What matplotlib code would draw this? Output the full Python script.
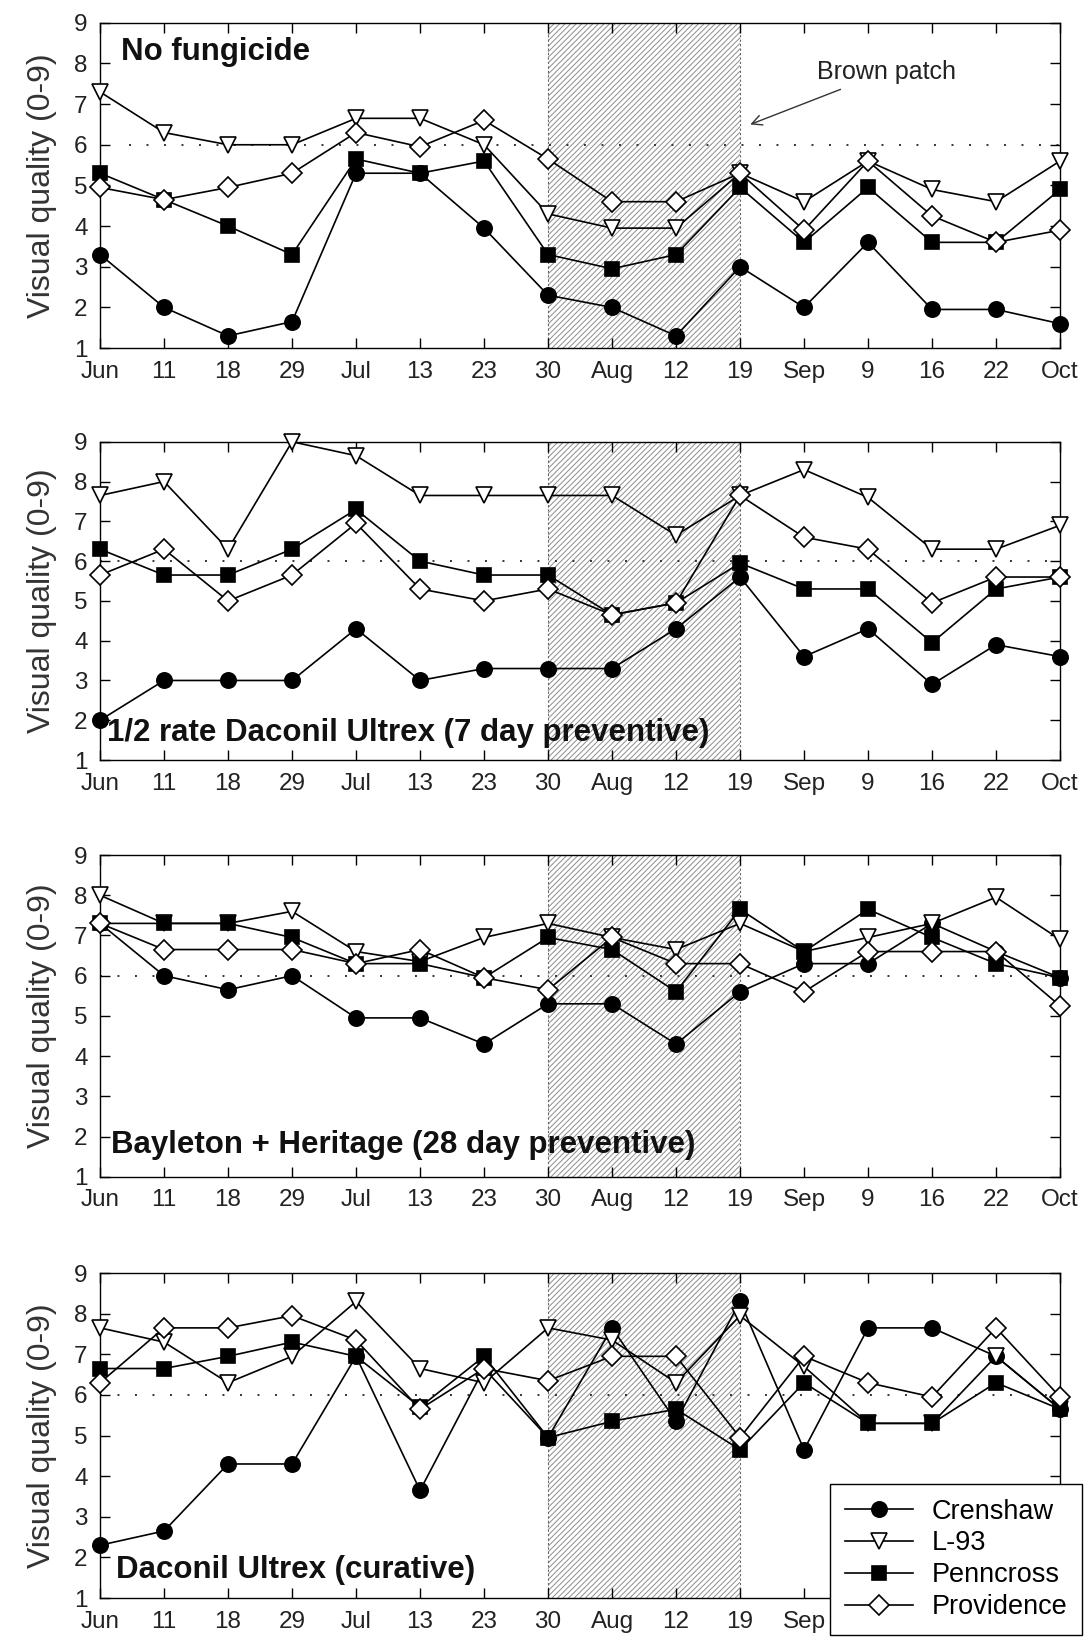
import numpy as np
import matplotlib
matplotlib.use('Agg')
import matplotlib.pyplot as plt

plt.rcParams['font.family'] = ['Liberation Sans Narrow', 'Liberation Sans', 'DejaVu Sans']
plt.rcParams['hatch.linewidth'] = 0.7

dates = ['Jun', '11', '18', '29', 'Jul', '13', '23', '30', 'Aug', '12', '19',
         'Sep', '9', '16', '22', 'Oct']
cultivars = ['Crenshaw', 'L-93', 'Penncross', 'Providence']
titles = ['No fungicide',
          '1/2 rate Daconil Ultrex (7 day preventive)',
          'Bayleton + Heritage (28 day preventive)',
          'Daconil Ultrex (curative)']

# visual quality per panel, per cultivar (Crenshaw, L-93, Penncross, Providence)
no_fungicide = [
    [3.3, 2.0, 1.3, 1.65, 5.3, 5.3, 3.95, 2.3, 2.0, 1.3, 3.0, 2.0, 3.6, 1.95, 1.95, 1.6],
    [7.3, 6.3, 6.0, 6.0, 6.65, 6.65, 6.0, 4.3, 3.95, 3.95, 5.3, 4.6, 5.6, 4.9, 4.6, 5.6],
    [5.3, 4.65, 4.0, 3.3, 5.65, 5.3, 5.6, 3.3, 2.95, 3.3, 4.95, 3.6, 4.95, 3.6, 3.6, 4.9],
    [4.95, 4.65, 4.95, 5.3, 6.3, 5.95, 6.6, 5.65, 4.6, 4.6, 5.3, 3.9, 5.6, 4.25, 3.6, 3.9],
]
half_daconil = [
    [2.0, 3.0, 3.0, 3.0, 4.3, 3.0, 3.3, 3.3, 3.3, 4.3, 5.6, 3.6, 4.3, 2.9, 3.9, 3.6],
    [7.65, 8.0, 6.3, 9.0, 8.65, 7.65, 7.65, 7.65, 7.65, 6.65, 7.65, 8.3, 7.6, 6.3, 6.3, 6.9],
    [6.3, 5.65, 5.65, 6.3, 7.3, 6.0, 5.65, 5.65, 4.65, 4.95, 5.95, 5.3, 5.3, 3.95, 5.3, 5.6],
    [5.65, 6.3, 5.0, 5.65, 6.95, 5.3, 5.0, 5.3, 4.65, 4.95, 7.65, 6.6, 6.3, 4.95, 5.6, 5.6],
]
bayleton = [
    [7.3, 6.0, 5.65, 6.0, 4.95, 4.95, 4.3, 5.3, 5.3, 4.3, 5.6, 6.3, 6.3, 7.3, 6.6, 5.95],
    [8.0, 7.3, 7.3, 7.6, 6.6, 6.35, 6.95, 7.3, 6.95, 6.65, 7.3, 6.6, 6.95, 7.3, 7.95, 6.9],
    [7.3, 7.3, 7.3, 6.95, 6.3, 6.3, 5.95, 6.95, 6.65, 5.6, 7.65, 6.6, 7.65, 6.95, 6.3, 5.95],
    [7.3, 6.65, 6.65, 6.65, 6.3, 6.65, 5.95, 5.65, 6.95, 6.3, 6.3, 5.6, 6.6, 6.6, 6.6, 5.25],
]
daconil_curative = [
    [2.3, 2.65, 4.3, 4.3, 6.95, 3.65, 6.65, 4.95, 7.65, 5.35, 8.3, 4.65, 7.65, 7.65, 6.95, 5.65],
    [7.65, 7.3, 6.3, 6.95, 8.3, 6.65, 6.3, 7.65, 7.35, 6.3, 7.95, 6.7, 5.3, 5.3, 6.95, 5.65],
    [6.65, 6.65, 6.95, 7.3, 6.95, 5.7, 6.95, 4.95, 5.35, 5.65, 4.65, 6.3, 5.3, 5.3, 6.3, 5.65],
    [6.3, 7.65, 7.65, 7.95, 7.35, 5.65, 6.65, 6.35, 6.95, 6.95, 4.95, 6.95, 6.3, 5.95, 7.65, 5.95],
]
panels = [no_fungicide, half_daconil, bayleton, daconil_curative]

styles = [dict(marker='o', mfc='black', ms=11),
          dict(marker='v', mfc='white', ms=12),
          dict(marker='s', mfc='black', ms=9.5),
          dict(marker='D', mfc='white', ms=10)]

fig = plt.figure(figsize=(10.85, 16.38), dpi=100)
bottoms = [0.7875, 0.5360, 0.2816, 0.0244]
heights = [0.1986, 0.1943, 0.1964, 0.1984]
title_x = [0.022, 0.007, 0.011, 0.017]
title_y = [0.91, 0.085, 0.10, 0.085]

x = np.arange(len(dates))
txt = '#222222'

for i, data in enumerate(panels):
    ax = fig.add_axes([0.0922, bottoms[i], 0.8848, heights[i]])
    ax.axvspan(7, 10, facecolor='white', edgecolor='0.55', hatch='//////',
               linewidth=0, zorder=0)
    ax.axvline(7, color='0.4', lw=0.8, ls=(0, (2, 2)), zorder=0.5)
    ax.axvline(10, color='0.4', lw=0.8, ls=(0, (2, 2)), zorder=0.5)
    ax.axhline(6, xmin=0.03 if i == 0 else 0.0, color='0.2', lw=1.4,
               ls=(0, (1, 8)), zorder=1)
    for j, series in enumerate(data):
        ax.plot(x, series, color='black', lw=1.2, mec='black', mew=1.2,
                label=cultivars[j], zorder=3 + j, clip_on=False, **styles[j])
    ax.set_xlim(0, 15)
    ax.set_ylim(1, 9)
    ax.set_xticks(x)
    if i == 3:
        # the legend box sits over the last four date labels
        ax.set_xticklabels(dates[:12] + [''] * 4)
    else:
        ax.set_xticklabels(dates)
    ax.set_yticks(range(1, 10))
    ax.tick_params(direction='in', top=True, right=True, length=7, width=1,
                   labelsize=17.5, labelcolor=txt)
    ax.tick_params(axis='x', pad=9)
    ax.tick_params(axis='y', pad=9)
    ax.set_ylabel('Visual quality (0-9)', fontsize=23, color='#333333', labelpad=12)
    for s in ax.spines.values():
        s.set_linewidth(1.0)
    ax.text(title_x[i], title_y[i], titles[i], transform=ax.transAxes, fontsize=22.5,
            fontweight='bold', color='#111111', va='center', ha='left', zorder=10)
    if i == 0:
        ax.annotate('Brown patch', xy=(10.16, 6.5), xytext=(11.2, 7.8),
                    fontsize=18, color=txt, va='center', ha='left',
                    arrowprops=dict(arrowstyle='->', color='#333333', lw=1.0,
                                    shrinkA=6, shrinkB=0))
    if i == 3:
        leg = ax.legend(loc='lower right', bbox_to_anchor=(1.0, 0.0),
                        bbox_transform=fig.transFigure, fontsize=19.5,
                        frameon=True, fancybox=False, edgecolor='black',
                        framealpha=1, borderpad=0.55, handlelength=2.5,
                        handletextpad=0.7, labelspacing=0.22, borderaxespad=0.1)
        leg.get_frame().set_linewidth(1.0)
        leg.set_zorder(20)

fig.savefig('out.png', dpi=100)
